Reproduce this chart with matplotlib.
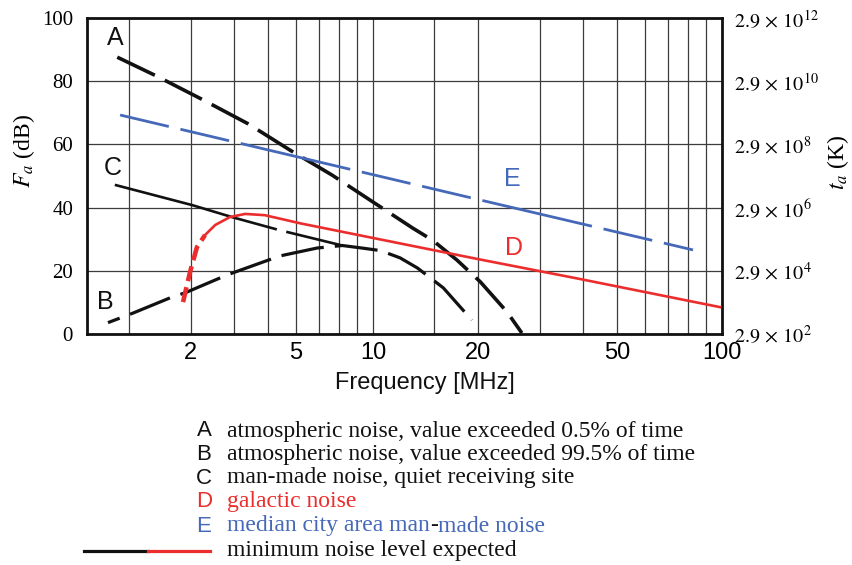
import numpy as np
import matplotlib.pyplot as plt
from matplotlib.lines import Line2D
from matplotlib.ticker import FixedLocator, NullFormatter

plt.rcParams['font.family'] = ['Liberation Sans', 'DejaVu Sans']
plt.rcParams['mathtext.fontset'] = 'stix'
plt.rcParams['lines.scale_dashes'] = False

# frequency (MHz) and Fa (dB)
a_freq = [1.85, 2.40, 3.23, 4.39, 5.78, 7.63, 9.80, 13.0, 14.8, 17.4, 20.3, 24.2, 26.7]
a_fa = [87.6, 81.6, 74.3, 66.5, 58.2, 50.3, 42.4, 33.5, 29.7, 23.4, 16.5, 7.0, 0.3]

b_freq = [1.74, 2.04, 2.67, 2.89, 3.82, 5.41, 6.91, 8.17, 9.3, 10.5, 11.95, 13.4, 15.9, 19.2]
b_fa = [3.6, 6.5, 11.8, 13.0, 18.7, 24.7, 27.2, 28.0, 27.2, 26.4, 24.1, 20.9, 14.6, 4.4]

c_freq = [1.82, 3.03, 3.97, 5.38, 8.17]
c_fa = [47.2, 40.8, 36.9, 32.9, 28.0]

d_freq = [2.855, 2.99, 3.13, 3.30, 3.53, 3.89, 4.30, 4.90, 6.2, 20.0, 39.2, 98.7]
d_fa = [10.1, 19.6, 27.5, 31.3, 34.5, 37.0, 38.0, 37.6, 35.0, 23.7, 17.4, 8.5]
d_cutoff = 3.30  # below this the galactic curve is drawn thick and dashed

e_freq = [1.885, 20.3, 82.6]
e_fa = [69.3, 42.4, 26.6]

# the reference puts its "2" and "5" labels on the 3 and 6 grid lines
tick_pos = [3, 6, 10, 20, 50, 100]
tick_labels = ['2', '5', '10', '20', '50', '100']
grid_minor = [2, 4, 5, 7, 8, 9, 15, 30, 40, 60, 70, 80, 90]
fa_ticks = [0, 20, 40, 60, 80, 100]
ta_exp = [2, 4, 6, 8, 10, 12]

letters = ['A', 'B', 'C', 'D', 'E']
descr = ['atmospheric noise, value exceeded 0.5% of time',
         'atmospheric noise, value exceeded 99.5% of time',
         'man-made noise, quiet receiving site',
         'galactic noise',
         'median city area man-made noise']

black = '#111111'
red = '#ec2d2d'
blue = '#4569b8'
grid_c = '#3c3c3c'
serif = 'Liberation Serif'

fig = plt.figure(figsize=(8.52, 5.65), dpi=100)
ax = fig.add_axes([87 / 852, 1 - 334 / 565, 635 / 852, 316 / 565])
ax.set_xscale('log')
ax.set_xlim(1.515, 100)
ax.set_ylim(0, 100)

ax.xaxis.set_major_locator(FixedLocator(tick_pos))
ax.set_xticklabels(tick_labels, fontsize=17)
ax.xaxis.set_minor_locator(FixedLocator(grid_minor))
ax.xaxis.set_minor_formatter(NullFormatter())
ax.set_yticks(fa_ticks)
ax.set_yticklabels([str(v) for v in fa_ticks], family=serif, fontsize=15)
ax.tick_params(axis='both', which='both', length=0)
ax.tick_params(axis='x', pad=6)
ax.tick_params(axis='y', pad=10)
ax.grid(True, which='both', axis='x', color=grid_c, lw=0.9)
ax.grid(True, which='major', axis='y', color=grid_c, lw=0.9)
ax.set_axisbelow(True)
for sp in ax.spines.values():
    sp.set_linewidth(2)
    sp.set_color(black)

ax2 = ax.twinx()
ax2.set_ylim(0, 100)
ax2.set_yticks(fa_ticks)
ax2.set_yticklabels([r'$2.9\,\times\,10^{%d}$' % e for e in ta_exp], fontsize=14.5)
ax2.tick_params(length=0, pad=9)
for sp in ax2.spines.values():
    sp.set_visible(False)

# curves
ax.plot(a_freq, a_fa, color=black, lw=2.6, linestyle=(0, (30, 8)), zorder=3)
ax.plot(b_freq, b_fa, color=black, lw=2.3, linestyle=(22, (31, 8)), zorder=3)
ax.plot(c_freq, c_fa, color=black, lw=1.9, linestyle=(0, (121, 7)), zorder=3)

d_freq = np.array(d_freq)
d_fa = np.array(d_fa)
low = d_freq <= d_cutoff
high = d_freq >= d_cutoff
ax.plot(d_freq[low], d_fa[low], color=red, lw=3.3, linestyle=(0, (11, 4.5)), zorder=4)
ax.plot(d_freq[high], d_fa[high], color=red, lw=1.9, zorder=4)
ax.plot(e_freq, e_fa, color=blue, lw=2, linestyle=(0, (36, 8.6, 36, 8.6, 81, 8.6)), zorder=3)

# curve letters
ax.text(1.823, 93.8, 'A', fontsize=18, ha='center', va='center', color=black)
ax.text(1.706, 10.1, 'B', fontsize=18, ha='center', va='center', color=black)
ax.text(1.80, 52.5, 'C', fontsize=18, ha='center', va='center', color=black)
ax.text(25.4, 27.2, 'D', fontsize=18, ha='center', va='center', color=red)
ax.text(25.0, 49.0, 'E', fontsize=18, ha='center', va='center', color=blue)

# axis titles
fig.text(425 / 852, 1 - 383 / 565, 'Frequency [MHz]', fontsize=17, ha='center', va='center', color=black)
fig.text(24 / 852, 1 - 151 / 565, r'$F_a$ (dB)', rotation=90, family=serif,
         fontsize=17, ha='center', va='center')
fig.text(838 / 852, 1 - 162 / 565, r'$t_a$ (K)', rotation=90, family=serif,
         fontsize=17, ha='center', va='center')

# legend block under the chart
baselines = [436.5, 460, 483.5, 507, 531.5, 556]
colors = [black, black, black, red, blue]
for i in range(5):
    y = 1 - baselines[i] / 565
    fig.text(204 / 852, y, letters[i], fontsize=16, ha='center', va='baseline', color=colors[i])
    if i < 4:
        fig.text(227 / 852, y, descr[i], family=serif, fontsize=17,
                 va='baseline', color=colors[i])
    else:
        # the hyphen in "man-made" is black in the reference
        left, right = descr[i].split('-')
        t1 = fig.text(227 / 852, y, left, family=serif, fontsize=17,
                      va='baseline', color=blue)
        t2 = ax.annotate('-', xy=(1, 0), xycoords=t1, family=serif, fontsize=17,
                         va='bottom', color=black, annotation_clip=False)
        ax.annotate(right, xy=(1, 0), xycoords=t2, family=serif, fontsize=17,
                    va='bottom', color=blue, annotation_clip=False)

y_last = 1 - baselines[5] / 565
fig.text(227 / 852, y_last, 'minimum noise level expected', family=serif,
         fontsize=17, va='baseline', color=black)
ly = 1 - 551 / 565
fig.add_artist(Line2D([84 / 852, 148 / 852], [ly, ly], color=black, lw=2.3))
fig.add_artist(Line2D([148 / 852, 210 / 852], [ly, ly], color=red, lw=2.3))

fig.savefig('out.png', dpi=100)
